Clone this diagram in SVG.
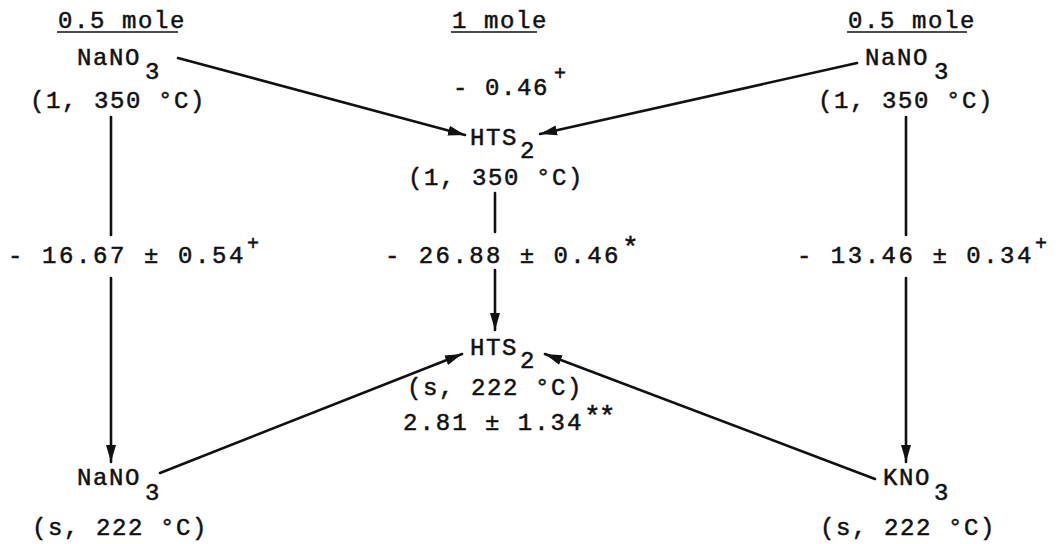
<svg xmlns="http://www.w3.org/2000/svg" width="1056" height="544" viewBox="0 0 1056 544">
<style>
text{font-family:"Liberation Mono","Courier New",monospace;font-size:24px;fill:#111;stroke:#111;stroke-width:0.5;letter-spacing:1.6px}
.sup{font-size:20px;letter-spacing:0}
.ast{font-size:28px;letter-spacing:-2px}
.ul{stroke:#111;stroke-width:1.6}
.edge{stroke:#111;stroke-width:2.6;fill:none;stroke-linecap:round}
</style>
<defs>
<marker id="ah" markerUnits="userSpaceOnUse" markerWidth="18" markerHeight="11" refX="17" refY="5.5" orient="auto">
<path d="M0,0.5 L17,5.5 L0,10.5 z" fill="#111"/>
</marker>
</defs>
<rect width="1056" height="544" fill="#fff"/>

<g id="headers">
<text x="58" y="28">0.5 mole</text>
<line class="ul" x1="57" y1="32" x2="178" y2="32"/>
<text x="452" y="28">1 mole</text>
<line class="ul" x1="451" y1="32" x2="537" y2="32"/>
<text x="848" y="28">0.5 mole</text>
<line class="ul" x1="847" y1="32" x2="967" y2="32"/>
</g>

<g id="nano3-liquid">
<text x="77" y="65">NaNO<tspan x="145" y="79">3</tspan></text>
<text x="30" y="108">(1, 350 °C)</text>
</g>

<g id="nano3-liquid-right">
<text x="865" y="65">NaNO<tspan x="934" y="79">3</tspan></text>
<text x="818" y="108">(1, 350 °C)</text>
</g>

<g id="hts2-liquid">
<text x="470" y="145">HTS<tspan x="520" y="158">2</tspan></text>
<text x="408" y="185">(1, 350 °C)</text>
</g>

<g id="hts2-solid">
<text x="470" y="355">HTS<tspan x="520" y="368">2</tspan></text>
<text x="407" y="395">(s, 222 °C)</text>
<text x="403" y="430" textLength="180" lengthAdjust="spacing">2.81 ± 1.34</text>
<text class="ast" x="584" y="425">**</text>
</g>

<g id="nano3-solid">
<text x="77" y="485">NaNO<tspan x="145" y="500">3</tspan></text>
<text x="32" y="535">(s, 222 °C)</text>
</g>

<g id="kno3-solid">
<text x="883" y="485">KNO<tspan x="934" y="500">3</tspan></text>
<text x="820" y="535">(s, 222 °C)</text>
</g>

<g id="labels">
<text x="453" y="95">- 0.46</text>
<text class="sup" x="554" y="80">+</text>
<text x="8" y="263" textLength="237" lengthAdjust="spacing">- 16.67 ± 0.54</text>
<text class="sup" x="247" y="250">+</text>
<text x="385" y="263" textLength="235" lengthAdjust="spacing">- 26.88 ± 0.46</text>
<text class="ast" x="622" y="256">*</text>
<text x="797" y="263" textLength="236" lengthAdjust="spacing">- 13.46 ± 0.34</text>
<text class="sup" x="1035" y="250">+</text>
</g>

<g id="connectors">
<line class="edge" x1="178" y1="58" x2="465" y2="135" marker-end="url(#ah)"/>
<line class="edge" x1="857" y1="63" x2="540" y2="134" marker-end="url(#ah)"/>
<line class="edge" x1="111" y1="117" x2="111" y2="235"/>
<line class="edge" x1="111" y1="278" x2="111" y2="462" marker-end="url(#ah)"/>
<line class="edge" x1="495" y1="193" x2="495" y2="232"/>
<line class="edge" x1="495" y1="270" x2="495" y2="330" marker-end="url(#ah)"/>
<line class="edge" x1="906" y1="117" x2="906" y2="235"/>
<line class="edge" x1="906" y1="278" x2="906" y2="462" marker-end="url(#ah)"/>
<line class="edge" x1="160" y1="473" x2="462" y2="354" marker-end="url(#ah)"/>
<line class="edge" x1="875" y1="479" x2="545" y2="354" marker-end="url(#ah)"/>
</g>
</svg>
